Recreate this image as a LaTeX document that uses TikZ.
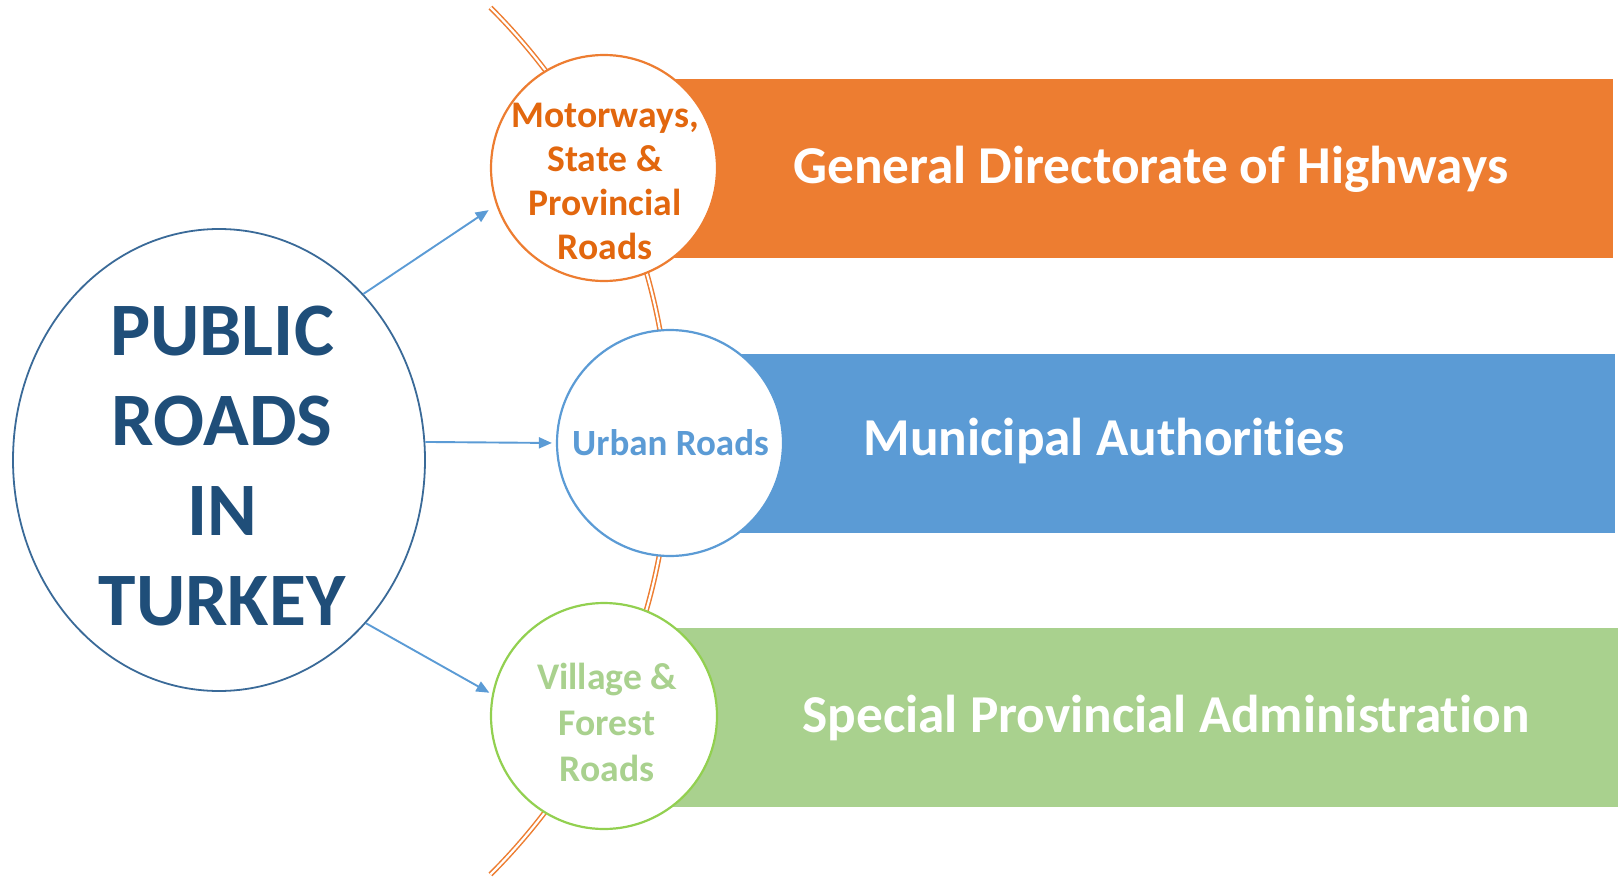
\documentclass[tikz,border=0pt]{standalone}
\usepackage{fontspec}
\setmainfont{Carlito}[RawFeature={-liga;-clig;-calt;-dlig}]
\usetikzlibrary{shapes.geometric,arrows.meta}
\definecolor{roadorange}{HTML}{ED7D31}
\definecolor{roadtextorange}{HTML}{E2670E}
\definecolor{urbanblue}{HTML}{5B9BD5}
\definecolor{villagegreen}{HTML}{A9D18E}
\definecolor{villageborder}{HTML}{92D050}
\definecolor{publicblue}{HTML}{1F4E79}
\definecolor{publicborder}{HTML}{3A6A98}
\begin{document}
\begin{tikzpicture}[x=1pt,y=1pt]
  \tikzstyle{bar}=[rectangle, inner sep=0pt, outer sep=0pt, minimum height=179pt, anchor=west]
  \tikzstyle{bartext}=[text=white, inner sep=0pt, anchor=base, font=\fontsize{53.3}{60}\selectfont\bfseries]
  \tikzstyle{roadcircle}=[circle, fill=white, line width=2.2pt, minimum size=226pt, inner sep=0pt]
  \tikzstyle{circletext}=[inner sep=0pt, align=center, font=\fontsize{37.6}{44}\selectfont\bfseries]
  \tikzstyle{link}=[color=urbanblue, line width=1.9pt, -{Triangle[length=13pt,width=11pt]}]
  \tikzstyle{roadline}=[color=roadorange, double=white, line width=1.5pt, double distance=2.2pt]
  \useasboundingbox (0,0) rectangle (1618,-878);
  % bars
  \node (GDHbar) [bar, fill=roadorange, minimum width=1009pt] at (604,-168.5) {};
  \node (MUNbar) [bar, fill=urbanblue, minimum width=945pt] at (670,-443) {};
  \node (SPAbar) [bar, fill=villagegreen, minimum width=1014pt] at (604,-717.5) {};
  \node (GDH) [bartext] at (1151,-183) {General Directorate of Highways};
  \node (MUN) [bartext] at (1104,-455) {Municipal Authorities};
  \node (SPA) [bartext] at (1166,-732) {Special Provincial Administration};
  % road arc through the circles
  \coordinate (hub) at (57,-441);
  \draw [roadline] ([shift={(45:613pt)}]hub) arc[start angle=45, end angle=-45, radius=613pt];
  % circles
  \node (MOT) [roadcircle, draw=roadorange] at (604,-168) {};
  \node (URB) [roadcircle, draw=urbanblue] at (670,-443) {};
  \node (VIL) [roadcircle, draw=villageborder] at (604,-716) {};
  \node (MOTt) [circletext, text=roadtextorange] at (605,-181.5) {Motorways,\\State \&\\Provincial\\Roads};
  \node (URBt) [circletext, text=urbanblue, anchor=base, font=\fontsize{37}{44}\selectfont\bfseries] at (670.5,-455) {Urban Roads};
  \node (VILt) [circletext, text=villagegreen, font=\fontsize{37.6}{46}\selectfont\bfseries] at (607,-722.5) {Village \&\\Forest\\Roads};
  % public roads
  \node (PUB) [ellipse, draw=publicborder, line width=1.8pt, minimum width=412pt, minimum height=462pt, inner sep=0pt] at (219,-460) {};
  \node (PUBt) [inner sep=0pt, align=center, text=publicblue, font=\fontsize{75.5}{90}\selectfont\bfseries] at (222,-466) {PUBLIC\\ROADS\\IN\\TURKEY};
  \draw [link, shorten >=9pt] (PUB.49) -- (MOT.199);
  \draw [link, shorten >=4pt] (PUB.5) -- (URB.180);
  \draw [link, shorten >=3pt] (PUB.-48) -- (VIL.169);
\end{tikzpicture}
\end{document}
